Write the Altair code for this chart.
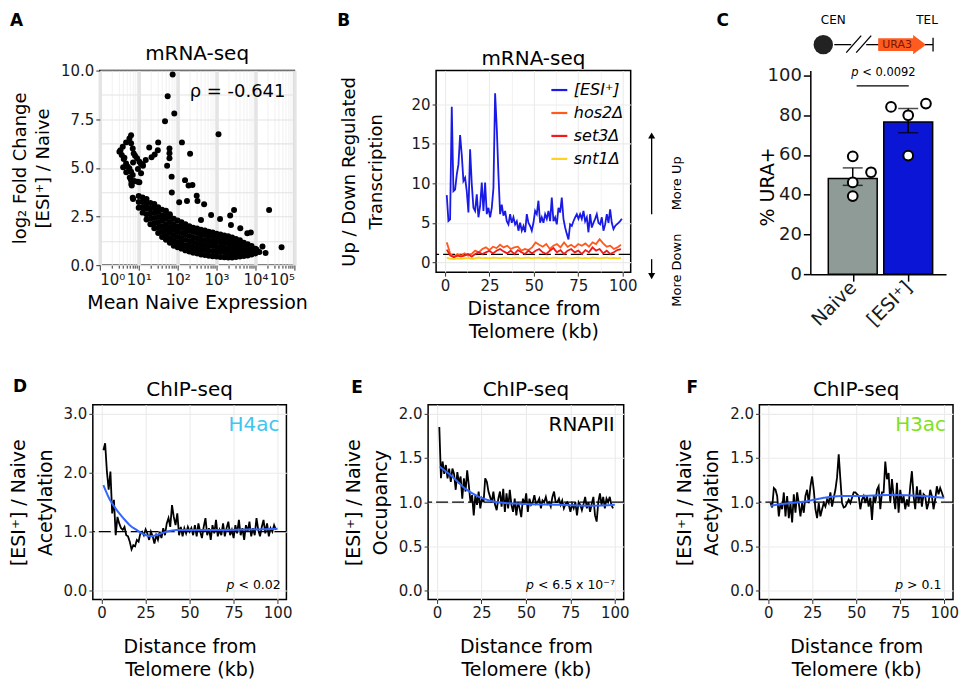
import altair as alt
import numpy as np
import pandas as pd

FONT = "DejaVu Sans"

# ---------------- Panel A : mRNA-seq scatter (log10 expression, log2 FC) ----------------
A_OUT_LOG10X = [1.872, 1.744, 1.914, 1.675, 3.05, 2.11, 1.50, 2.32, 1.79, 1.79, 1.79, 1.73, 1.27, 1.49,
                1.41, 1.33, 1.18, 1.10, 1.846, 2.19, 2.28, 2.38, 1.85, 2.04, 2.24, 2.49, 2.51, 2.68,
                2.86, 3.09, 3.35, 3.45, 2.60, 3.37, 3.61, 4.35, 3.79, 3.88, 4.67, 4.18, 4.03, 4.26]
A_OUT_Y = [9.8, 8.68, 7.79, 7.4, 6.73, 6.31, 6.31, 5.73, 6.0, 5.75, 5.5, 5.11, 6.05, 5.9,
           5.69, 5.54, 5.40, 5.18, 4.55, 4.37, 4.09, 4.12, 3.74, 3.23, 3.30, 3.57, 3.30, 3.13,
           2.58, 2.37, 2.55, 2.84, 2.32, 2.07, 1.90, 2.84, 1.64, 1.68, 0.92, 0.96, 0.79, 0.62]
A_CLUSTER_LOG10X = [0.804, 0.761, 0.675, 0.59, 0.53, 0.504, 0.564, 0.632, 0.804, 0.846, 0.872, 0.906,
                    0.957, 1.017, 1.06, 0.675, 0.718, 0.761, 0.804, 0.846, 0.804, 0.821, 0.889, 0.974,
                    1.017, 1.06, 0.846, 0.60, 0.68, 0.77, 0.615, 0.855, 0.98, 1.11, 0.81, 0.855]
A_CLUSTER_Y = [6.68, 6.51, 6.31, 6.09, 5.91, 5.83, 5.66, 5.52, 6.26, 6.0, 5.74, 5.62,
               5.49, 5.32, 5.18, 5.23, 5.06, 4.97, 4.80, 4.63, 4.37, 4.09, 4.32, 4.29,
               4.26, 4.72, 3.47, 5.03, 4.77, 4.51, 5.45, 5.28, 4.94, 5.11, 4.17, 3.40]
# dense band of genes: (log10 expression, [log2 FC values])
A_BAND = [
    (1.0, [2.95, 3.25, 3.55]),
    (1.1, [2.7, 2.98, 3.25, 3.48]),
    (1.2, [2.35, 2.62, 2.9, 3.15, 3.4]),
    (1.3, [2.1, 2.38, 2.65, 2.92, 3.2]),
    (1.4, [1.9, 2.15, 2.42, 2.7, 2.95, 3.15]),
    (1.5, [1.65, 1.92, 2.2, 2.48, 2.75, 2.98]),
    (1.6, [1.45, 1.72, 2.0, 2.28, 2.55, 2.85]),
    (1.7, [1.3, 1.55, 1.82, 2.1, 2.38, 2.65, 2.8]),
    (1.8, [1.15, 1.4, 1.68, 1.95, 2.22, 2.5, 2.62]),
    (1.9, [1.0, 1.28, 1.55, 1.82, 2.1, 2.38]),
    (2.0, [0.92, 1.18, 1.45, 1.72, 2.0, 2.3]),
    (2.1, [0.85, 1.1, 1.38, 1.65, 1.92, 2.2]),
    (2.2, [0.76, 1.02, 1.3, 1.58, 1.85, 2.1]),
    (2.3, [0.7, 0.95, 1.22, 1.5, 1.78, 2.0]),
    (2.4, [0.64, 0.9, 1.16, 1.42, 1.7, 1.92]),
    (2.5, [0.6, 0.85, 1.1, 1.38, 1.65, 1.88]),
    (2.6, [0.55, 0.8, 1.06, 1.32, 1.58, 1.82]),
    (2.7, [0.52, 0.78, 1.02, 1.28, 1.55, 1.78]),
    (2.8, [0.48, 0.74, 1.0, 1.25, 1.5, 1.72]),
    (2.9, [0.46, 0.72, 0.98, 1.22, 1.48, 1.68]),
    (3.0, [0.44, 0.7, 0.95, 1.2, 1.45, 1.62]),
    (3.1, [0.42, 0.68, 0.92, 1.18, 1.42, 1.58]),
    (3.2, [0.41, 0.66, 0.9, 1.15, 1.38, 1.52]),
    (3.3, [0.4, 0.65, 0.88, 1.12, 1.35, 1.48]),
    (3.4, [0.4, 0.64, 0.88, 1.1, 1.3, 1.42]),
    (3.5, [0.42, 0.66, 0.9, 1.12, 1.35]),
    (3.6, [0.44, 0.68, 0.92, 1.15, 1.28]),
    (3.7, [0.47, 0.72, 0.95, 1.15]),
    (3.8, [0.5, 0.75, 0.98, 1.08]),
    (3.9, [0.55, 0.78, 0.98]),
    (4.0, [0.6, 0.85]),
    (4.1, [0.68]),
]
A_RHO = "ρ = -0.641"

# ---------------- Panel B : mRNA-seq vs distance ----------------
B_SERIES = ["[ESI⁺]", "hos2Δ", "set3Δ", "snt1Δ"]
B_COLORS = ["#1A1AE6", "#FF5A1E", "#F21A1A", "#FFD21E"]
B_ESI = [8.5, 5.24, 5.45, 19.7, 9.0, 9.2, 11.1, 12.4, 16.1, 13.6,
         10.3, 10.7, 9.0, 6.3, 14.3, 9.9, 6.9, 6.5, 8.6, 5.7,
         7.1, 10.1, 6.5, 10.1, 6.1, 6.9, 5.7, 6.9, 9.4, 21.4,
         17.0, 11.1, 6.1, 7.3, 5.9, 6.5, 5.2, 4.8, 6.1, 5.0,
         5.7, 4.8, 5.2, 4.0, 5.0, 4.0, 4.6, 3.8, 6.1, 5.0,
         4.6, 4.0, 5.0, 6.5, 6.1, 7.8, 5.0, 5.7, 5.0, 6.1,
         5.5, 6.5, 5.2, 8.2, 5.2, 5.7, 4.8, 6.9, 6.3, 8.2,
         5.5, 4.4, 3.6, 2.9, 4.8, 4.6, 5.2, 5.7, 6.1, 5.5,
         6.1, 5.5, 6.5, 5.2, 5.7, 3.8, 6.1, 4.4, 5.0, 5.5,
         6.1, 5.0, 4.8, 5.7, 4.0, 4.8, 6.1, 5.0, 6.7, 5.0,
         4.2, 4.6, 4.8, 5.0, 5.2, 5.5]
B_ESI_X = np.linspace(1.0, 99.5, len(B_ESI))
B_MUT_X = list(range(1, 100, 2))
B_HOS2 = [2.52, 1.05, 0.71, 1.05, 0.84, 1.13, 0.84, 1.05, 1.47, 1.26,
          1.68, 1.89, 1.55, 1.97, 1.80, 2.22, 1.89, 2.10, 1.68, 1.89,
          1.97, 1.47, 1.68, 1.55, 1.89, 2.52, 2.22, 1.97, 2.31, 1.68,
          2.10, 2.31, 1.89, 2.52, 1.97, 2.22, 1.89, 2.31, 2.10, 2.39,
          1.97, 2.52, 2.31, 2.93, 2.39, 1.97, 2.10, 1.68, 1.89, 2.22]
B_SET3 = [1.60, 0.84, 0.63, 0.84, 0.71, 0.84, 1.05, 0.71, 1.05, 1.26,
          1.05, 1.26, 1.47, 1.13, 1.47, 1.68, 1.38, 1.13, 1.47, 1.05,
          1.55, 1.26, 1.05, 1.47, 1.13, 1.47, 1.68, 1.26, 1.05, 1.47,
          1.80, 1.26, 1.55, 1.05, 1.47, 1.68, 1.26, 1.47, 1.05, 1.55,
          1.26, 1.89, 1.47, 1.68, 1.13, 1.47, 1.05, 1.26, 1.55, 1.68]
B_SNT1 = [0.55, 0.45, 0.40, 0.50, 0.45, 0.50, 0.55, 0.45, 0.50, 0.60,
          0.50, 0.55, 0.50, 0.60, 0.55, 0.50, 0.60, 0.55, 0.50, 0.55,
          0.60, 0.50, 0.55, 0.60, 0.50, 0.55, 0.60, 0.50, 0.55, 0.50,
          0.60, 0.55, 0.50, 0.55, 0.60, 0.50, 0.55, 0.60, 0.50, 0.55,
          0.50, 0.60, 0.55, 0.50, 0.55, 0.60, 0.50, 0.55, 0.50, 0.55]

# ---------------- Panel C : % URA+ ----------------
C_GROUPS = ["Naive", "[ESI⁺]"]
C_POS = [1, 2]
C_MEAN = [48.2, 76.6]
C_SEM_LO = [44.7, 71.2]
C_SEM_HI = [53.5, 83.4]
C_FILL = ["#8E9B97", "#0B15D5"]
C_PT_POS = [1.0, 1.33, 1.0, 1.0, 1.69, 2.32, 2.0, 2.0]
C_PT_VAL = [59.3, 51.3, 46.2, 39.3, 84.2, 85.9, 80.0, 59.7]

# ---------------- Panels D, E, F : ChIP-seq ----------------
D_Y = [2.38, 2.50, 2.02, 1.71, 2.02, 1.31, 1.54, 0.94, 1.25, 1.14,
       1.06, 1.03, 1.08, 0.94, 0.92, 0.83, 0.70, 0.77, 0.75, 0.86,
       0.83, 0.97, 1.00, 0.94, 1.04, 0.97, 0.86, 1.00, 0.92, 0.80,
       0.94, 0.86, 1.00, 0.89, 1.06, 0.94, 1.14, 1.23, 1.08, 1.45,
       1.25, 1.11, 1.31, 0.94, 1.08, 0.92, 1.06, 0.97, 1.08, 1.00,
       1.06, 0.94, 1.11, 0.92, 1.14, 1.00, 0.89, 1.08, 1.23, 0.94,
       1.06, 0.86, 1.11, 0.97, 1.20, 0.92, 1.03, 0.94, 1.14, 0.92,
       1.06, 1.17, 0.94, 1.03, 0.89, 1.11, 0.97, 1.20, 0.94, 1.06,
       0.86, 1.11, 1.00, 1.17, 0.92, 1.06, 0.94, 1.23, 1.03, 0.92,
       1.08, 1.20, 0.97, 1.14, 0.92, 1.06, 1.00, 1.11, 1.03]
D_X = list(range(1, len(D_Y) + 1))
D_SMOOTH_X = [1, 4.7, 8.5, 12.3, 16, 19.8, 23.6, 27.4, 31, 36.8, 42.5, 50, 69, 100]
D_SMOOTH_Y = [1.79, 1.54, 1.37, 1.23, 1.11, 1.03, 0.96, 0.92, 0.94, 1.0, 1.03, 1.03, 1.03, 1.05]

E_Y = [1.85, 1.27, 1.46, 1.32, 1.42, 1.27, 1.38, 1.23, 1.38, 1.32,
       1.14, 1.34, 1.21, 1.29, 1.04, 1.27, 1.12, 1.36, 1.19, 1.00,
       1.08, 0.85, 1.08, 0.97, 1.12, 0.93, 1.04, 1.00, 1.27, 1.23,
       1.12, 1.06, 1.00, 1.12, 0.97, 0.91, 1.04, 1.12, 0.95, 1.15,
       0.89, 1.10, 0.93, 1.14, 0.97, 0.89, 1.04, 0.85, 1.00, 0.93,
       0.83, 1.04, 0.97, 1.10, 0.89, 1.04, 0.97, 1.00, 1.08, 0.98,
       1.00, 1.04, 0.93, 1.02, 1.00, 1.06, 0.98, 1.00, 0.95, 1.06,
       1.12, 1.00, 1.00, 1.04, 0.97, 1.02, 0.93, 0.98, 1.00, 0.97,
       0.89, 0.98, 0.93, 1.00, 0.85, 1.00, 0.97, 0.91, 0.98, 1.06,
       0.93, 1.00, 0.89, 0.98, 1.06, 0.85, 0.78, 1.00, 1.10, 0.97,
       1.06, 0.93, 1.04, 1.00, 1.06, 0.97, 0.93]
E_X = np.linspace(1.3, 99.0, len(E_Y))
E_SMOOTH_X = [1.5, 8.5, 16, 23.6, 31, 38.5, 50, 69, 88, 100]
E_SMOOTH_Y = [1.40, 1.29, 1.15, 1.06, 1.01, 0.99, 0.98, 0.97, 0.96, 0.97]

F_Y = [0.99, 0.94, 1.16, 1.14, 1.07, 0.84, 0.99, 0.92, 1.11, 0.84,
       1.07, 0.82, 0.99, 0.77, 1.09, 0.88, 1.11, 0.99, 0.84, 0.99,
       0.88, 1.07, 1.14, 0.99, 1.18, 1.29, 1.14, 0.92, 0.82, 0.99,
       0.84, 0.92, 0.99, 0.95, 1.03, 0.99, 1.11, 0.95, 1.05, 1.14,
       1.28, 1.54, 1.26, 0.99, 0.94, 0.95, 0.99, 1.03, 0.99, 1.05,
       1.11, 1.11, 1.09, 1.07, 0.92, 1.03, 1.07, 0.99, 1.07, 0.95,
       1.05, 0.80, 1.07, 0.99, 1.14, 1.18, 0.92, 1.11, 1.11, 1.46,
       1.26, 1.33, 0.99, 1.26, 1.07, 0.92, 1.22, 0.88, 1.14, 0.99,
       1.07, 0.92, 1.03, 0.95, 1.18, 1.35, 1.07, 0.92, 1.18, 0.99,
       1.14, 0.95, 1.09, 1.07, 0.92, 0.99, 1.14, 1.07, 0.92, 1.03,
       1.18, 1.09, 1.16, 1.11, 1.05]
F_X = np.linspace(1.3, 99.6, len(F_Y))
F_SMOOTH_X = [1.3, 12.7, 22, 31.6, 41, 50.5, 69, 88, 100]
F_SMOOTH_Y = [0.96, 0.99, 1.01, 1.05, 1.07, 1.07, 1.08, 1.07, 1.05]

DIST_TICKS = [0, 12.5, 25, 37.5, 50, 62.5, 75, 87.5, 100]
DIST_TITLE = ["Distance from", "Telomere (kb)"]

# ======================================================================
ONE = pd.DataFrame({"k": [0]})
BORDER = alt.ViewBackground(stroke="black", strokeWidth=1.5)


def txt(text, x, y, size=14, align="left", baseline="alphabetic", weight="normal",
        style="normal", color="black", angle=0):
    kw = dict(text=text, align=align, baseline=baseline, fontSize=size, font=FONT,
              fontWeight=weight, fontStyle=style, color=color)
    if angle:
        kw["angle"] = angle
    return alt.Chart(ONE).mark_text(**kw).encode(x=alt.value(x), y=alt.value(y))


def hrule(x1, x2, y1, y2, width=1.3, color="black"):
    return alt.Chart(ONE).mark_rule(color=color, strokeWidth=width).encode(
        x=alt.value(x1), x2=alt.value(x2), y=alt.value(y1), y2=alt.value(y2))


def spacer(w, h):
    return alt.Chart(ONE).mark_point(opacity=0).encode(
        x=alt.value(0), y=alt.value(0)).properties(width=w, height=h)


def minor_cond(step, minor_val, major_val):
    return {"condition": {"test": f"datum.value % {step} != 0", "value": minor_val},
            "value": major_val}


def dist_axis(pad=17, lh=23):
    return alt.Axis(values=DIST_TICKS, labelExpr="datum.value % 25 == 0 ? datum.label : ''",
                    tickOpacity=minor_cond(25, 0, 1), gridWidth=minor_cond(25, 0.6, 1.1),
                    title=DIST_TITLE, titleLineHeight=lh, titlePadding=pad,
                    labelFontSize=15, titleFontSize=19, labelOverlap=False)


# ---------------- A ----------------
a_lx = A_OUT_LOG10X + A_CLUSTER_LOG10X + [c for c, ys in A_BAND for _ in ys]
a_y = A_OUT_Y + A_CLUSTER_Y + [v for c, ys in A_BAND for v in ys]
dfA = pd.DataFrame({"expr": np.power(10.0, a_lx), "lfc": a_y})

A_X_TICKS = [m * 10 ** k for k in range(5) for m in range(1, 10)] + [100000]
A_MAJOR = "indexof([1,10,100,1000,10000,100000], datum.value) >= 0"
a_xaxis = alt.Axis(
    values=A_X_TICKS,
    labelExpr=("datum.value == 1 ? '10⁰' : datum.value == 10 ? '10¹' : datum.value == 100 ? '10²' : "
               "datum.value == 1000 ? '10³' : datum.value == 10000 ? '10⁴' : "
               "datum.value == 100000 ? '10⁵' : ''"),
    gridWidth={"condition": {"test": A_MAJOR, "value": 3.5}, "value": 0.8},
    gridColor={"condition": {"test": A_MAJOR, "value": "#E4E4E4"}, "value": "#EDEDED"},
    tickSize={"condition": {"test": A_MAJOR, "value": 5}, "value": 3},
    labelOverlap=False, labelFontSize=15, titleFontSize=19, titlePadding=6,
    title="Mean Naive Expression")
a_yaxis = alt.Axis(
    values=[0, 1.25, 2.5, 3.75, 5, 6.25, 7.5, 8.75, 10],
    labelExpr="datum.value % 2.5 == 0 ? format(datum.value, '.1f') : ''",
    tickOpacity=minor_cond(2.5, 0, 1), gridColor="#E3E3E3", gridWidth=1.1,
    labelOverlap=False, labelFontSize=15, titleFontSize=18, titlePadding=8, titleLineHeight=23,
    title=["log₂ Fold Change", "[ESI⁺] / Naive"])

pointsA = alt.Chart(dfA).mark_circle(size=36, color="black", opacity=1).encode(
    x=alt.X("expr:Q", scale=alt.Scale(type="log", domain=[1, 100000], nice=False), axis=a_xaxis),
    y=alt.Y("lfc:Q", scale=alt.Scale(domain=[0, 10], nice=False), axis=a_yaxis))
panelA = alt.layer(
    pointsA,
    txt(A_RHO, 186, 26, size=18, align="right"),
    txt("mRNA-seq", 97.5, -11, size=20, align="center"),
    txt("A", -90, -58, size=17, weight="bold", baseline="top"),
).properties(width=195, height=195, view=BORDER)

# ---------------- B ----------------
dfB = pd.concat([
    pd.DataFrame({"series": B_SERIES[0], "dist": B_ESI_X, "val": B_ESI}),
    pd.DataFrame({"series": B_SERIES[1], "dist": B_MUT_X, "val": B_HOS2}),
    pd.DataFrame({"series": B_SERIES[2], "dist": B_MUT_X, "val": B_SET3}),
    pd.DataFrame({"series": B_SERIES[3], "dist": B_MUT_X, "val": B_SNT1}),
], ignore_index=True)

b_yaxis = alt.Axis(values=[0, 2.5, 5, 7.5, 10, 12.5, 15, 17.5, 20, 22.5],
                   labelExpr="datum.value % 5 == 0 ? datum.label : ''",
                   tickOpacity=minor_cond(5, 0, 1), gridWidth=minor_cond(5, 0.6, 1.1),
                   labelOverlap=False, labelFontSize=15, titleFontSize=18, titlePadding=26,
                   titleLineHeight=27, title=["Up / Down Regulated", "Transcription"])
linesB = alt.Chart(dfB).mark_line(strokeWidth=1.8).encode(
    x=alt.X("dist:Q", scale=alt.Scale(domain=[-5, 104.5], nice=False, zero=False),
            axis=dist_axis(6, 23)),
    y=alt.Y("val:Q", scale=alt.Scale(domain=[-1.25, 24.28], nice=False, zero=False), axis=b_yaxis),
    color=alt.Color("series:N", scale=alt.Scale(domain=B_SERIES, range=B_COLORS),
                    legend=alt.Legend(orient="none", legendX=114, legendY=10, title=None,
                                      symbolType="stroke", symbolStrokeWidth=2.2, symbolSize=256,
                                      labelFontSize=16, labelFontStyle="italic", labelFont=FONT,
                                      labelColor="black", rowPadding=5, labelOffset=5, padding=0)),
)
hlineB = alt.Chart(pd.DataFrame({"val": [1]})).mark_rule(
    color="black", strokeWidth=1.3, strokeDash=[12, 4]).encode(y="val:Q")
arrowsB = [
    hrule(216, 216, 65, 144, 1.3),
    alt.Chart(ONE).mark_point(shape="triangle-up", filled=True, size=50, color="black", opacity=1)
    .encode(x=alt.value(216), y=alt.value(65)),
    hrule(216, 216, 189, 206, 1.3),
    alt.Chart(ONE).mark_point(shape="triangle-down", filled=True, size=50, color="black", opacity=1)
    .encode(x=alt.value(216), y=alt.value(206)),
    txt("More Up", 241, 113, size=13, align="center", baseline="middle", angle=270),
    txt("More Down", 241, 200, size=13, align="center", baseline="middle", angle=270),
]
panelB = alt.layer(
    hlineB, linesB, *arrowsB,
    txt("mRNA-seq", 97.5, -6, size=20, align="center"),
    txt("B", -99, -58, size=17, weight="bold", baseline="top"),
).properties(width=195, height=202, view=BORDER)

# ---------------- C ----------------
dfC = pd.DataFrame({"group": C_GROUPS, "pos": C_POS, "mean": C_MEAN,
                    "lo": C_SEM_LO, "hi": C_SEM_HI})
dfCp = pd.DataFrame({"pos": C_PT_POS, "val": C_PT_VAL})
c_x = alt.X("pos:Q", scale=alt.Scale(domain=[0.325, 2.592], nice=False, zero=False),
            axis=alt.Axis(values=[1, 2], labelExpr="datum.value == 1 ? 'Naive' : '[ESI⁺]'",
                          labelAngle=-45, labelAlign="right", labelBaseline="middle",
                          labelFontSize=19, grid=False, domain=True, domainColor="black",
                          domainWidth=1.5, tickColor="black", tickWidth=1.5, tickSize=7,
                          labelPadding=3, title=None))
c_y = alt.Y("mean:Q", scale=alt.Scale(domain=[0, 102.5], nice=False),
            axis=alt.Axis(values=[0, 20, 40, 60, 80, 100], grid=False, domain=True,
                          domainColor="black", domainWidth=1.5, tickColor="black", tickWidth=1.5,
                          tickSize=7, labelFontSize=18, titleFontSize=19,
                          titleX=-43, titleY=116, titleAlign="center", titleBaseline="middle",
                          titleAngle=270, title="% URA+"))
barsC = alt.Chart(dfC).mark_bar(size=49, stroke="black", strokeWidth=1.5).encode(
    x=c_x, y=c_y,
    color=alt.Color("group:N", scale=alt.Scale(domain=C_GROUPS, range=C_FILL), legend=None))
errC = alt.Chart(dfC).mark_rule(color="black", strokeWidth=1.5).encode(x="pos:Q", y="lo:Q", y2="hi:Q")
capLo = alt.Chart(dfC).mark_tick(orient="horizontal", size=20, thickness=1.5, color="black").encode(
    x="pos:Q", y="lo:Q")
capHi = alt.Chart(dfC).mark_tick(orient="horizontal", size=20, thickness=1.5, color="black").encode(
    x="pos:Q", y="hi:Q")
ptsC = alt.Chart(dfCp).mark_point(shape="circle", filled=True, fill="white", stroke="black",
                                  strokeWidth=2, size=95, opacity=1).encode(x="pos:Q", y="val:Q")
bracketC = alt.Chart(pd.DataFrame({"pos": [1.07], "pos2": [2.01], "val": [94.8]})).mark_rule(
    color="black", strokeWidth=1.3).encode(x="pos:Q", x2="pos2:Q", y="val:Q")
ARROW_PATH = "M -1 -0.27 L 0.46 -0.27 L 0.46 -0.4 L 1 0 L 0.46 0.4 L 0.46 0.27 L -1 0.27 Z"
diagramC = [
    txt("CEN", 23, -51, size=12, align="center", baseline="middle"),
    txt("TEL", 117, -51, size=12, align="center", baseline="middle"),
    alt.Chart(ONE).mark_point(shape="circle", filled=True, size=380, color="#222222", opacity=1)
    .encode(x=alt.value(13), y=alt.value(-26)),
    hrule(24, 41, -26, -26), hrule(36, 51, -18, -35), hrule(46, 61, -18, -35),
    hrule(56, 70, -26, -26),
    alt.Chart(ONE).mark_point(shape=ARROW_PATH, filled=True, size=2304, color="#FF5B1F",
                              opacity=1, strokeWidth=0).encode(x=alt.value(92), y=alt.value(-26)),
    txt("URA3", 87, -26, size=11, align="center", baseline="middle", color="#7A1500"),
    hrule(115, 123, -26, -26), hrule(123, 123, -33, -19),
    txt("p", 41, 2, size=11.5, style="italic", baseline="middle"),
    txt("< 0.0092", 52, 2, size=11.5, baseline="middle"),
    txt("C", -94, -58, size=17, weight="bold", baseline="top"),
]
panelC = alt.layer(barsC, errC, capLo, capHi, ptsC, bracketC, *diagramC).properties(
    width=136, height=204)


# ---------------- D / E / F ----------------
def chip_panel(xs, ys, sx, sy, ydom, yvals, ymajor, ytitle, tag, tag_color,
               p_rest, p_left, letter, lx, ly, width, title_y):
    df = pd.DataFrame({"dist": xs, "ratio": ys})
    sdf = pd.DataFrame({"dist": sx, "ratio": sy})
    yaxis = alt.Axis(values=yvals,
                     labelExpr=f"datum.value % {ymajor} == 0 ? format(datum.value, '.1f') : ''",
                     tickOpacity=minor_cond(ymajor, 0, 1), gridWidth=minor_cond(ymajor, 0.6, 1.1),
                     labelOverlap=False, labelFontSize=15, titleFontSize=19, titlePadding=8,
                     titleLineHeight=27, title=ytitle)
    hline = alt.Chart(pd.DataFrame({"ratio": [1]})).mark_rule(
        color="black", strokeWidth=1.3, strokeDash=[12, 4]).encode(y="ratio:Q")
    line = alt.Chart(df).mark_line(color="black", strokeWidth=1.8).encode(
        x=alt.X("dist:Q", scale=alt.Scale(domain=[-5, 105], nice=False, zero=False),
                axis=dist_axis()),
        y=alt.Y("ratio:Q", scale=alt.Scale(domain=ydom, nice=False, zero=False), axis=yaxis))
    smooth = alt.Chart(sdf).mark_line(color="#3366FF", strokeWidth=2, interpolate="monotone").encode(
        x="dist:Q", y="ratio:Q")
    return alt.layer(
        hline, line, smooth,
        txt(tag, 187, 26, size=20, align="right", color=tag_color),
        txt("p", p_left, 185, size=12.5, style="italic"),
        txt(p_rest, p_left + 12, 185, size=12.5),
        txt("ChIP-seq", width / 2, title_y, size=20, align="center"),
        txt(letter, lx, ly, size=17, weight="bold", baseline="top"),
    ).properties(width=width, height=195, view=BORDER)


panelD = chip_panel(D_X, D_Y, D_SMOOTH_X, D_SMOOTH_Y, [-0.15, 3.15],
                    [0, 0.5, 1, 1.5, 2, 2.5, 3], 1, ["[ESI⁺] / Naive", "Acetylation"],
                    "H4ac", "#3EC5F0", "< 0.02", 134, "D", -80, -26, 194, -9)
panelE = chip_panel(E_X, E_Y, E_SMOOTH_X, E_SMOOTH_Y, [-0.1, 2.1],
                    [0, 0.25, 0.5, 0.75, 1, 1.25, 1.5, 1.75, 2], 0.5,
                    ["[ESI⁺] / Naive", "Occupancy"],
                    "RNAPII", "black", "< 6.5 x 10⁻⁷", 98, "E", -77, -25, 196, -9)
panelF = chip_panel(F_X, F_Y, F_SMOOTH_X, F_SMOOTH_Y, [-0.1, 2.1],
                    [0, 0.25, 0.5, 0.75, 1, 1.25, 1.5, 1.75, 2], 0.5,
                    ["[ESI⁺] / Naive", "Acetylation"],
                    "H3ac", "#7FE01F", "> 0.1", 136, "F", -73, -25, 194, -9)

# ---------------- layout ----------------
top = alt.hconcat(spacer(7, 202), panelA, spacer(142, 202), panelB, spacer(180, 202), panelC,
                  spacing=0, bounds="flush").resolve_scale(
    x="independent", y="independent", color="independent")
bottom = alt.hconcat(panelD, spacer(142, 195), panelE, spacer(136, 195), panelF,
                     spacing=0, bounds="flush").resolve_scale(
    x="independent", y="independent", color="independent")

chart = alt.vconcat(top, bottom, spacing=35).resolve_scale(
    x="independent", y="independent", color="independent"
).properties(
    padding={"left": 0, "top": 2, "right": 0, "bottom": 0}
).configure_view(stroke="transparent").configure_axis(
    labelFont=FONT, titleFont=FONT, labelColor="#1a1a1a", titleColor="black",
    titleFontWeight="normal", tickColor="#333333", tickSize=4, labelPadding=2,
    domain=False, grid=True, gridColor="#EBEBEB"
).configure_title(font=FONT, fontWeight="normal", color="black")

chart.save("out.html", embed_options={"renderer": "svg", "actions": False})
